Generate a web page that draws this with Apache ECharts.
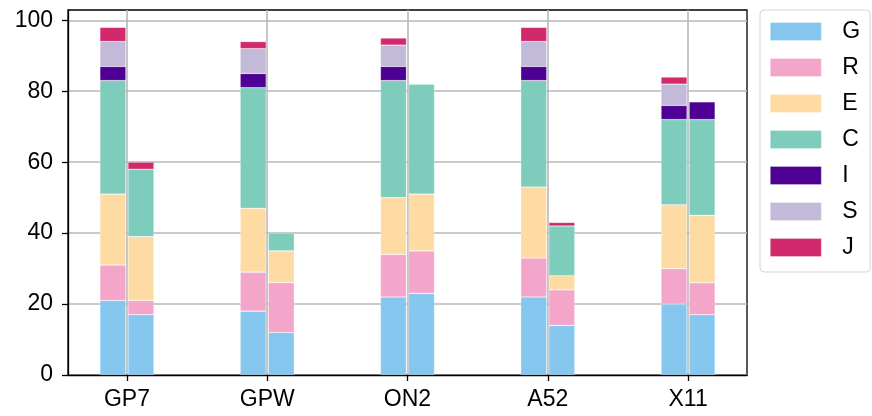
<!DOCTYPE html>
<html>
<head>
<meta charset="utf-8">
<script src="https://cdn.jsdelivr.net/npm/echarts@6/dist/echarts.min.js"></script>
<style>
  html, body { margin: 0; padding: 0; background: #fff; }
  #chart { width: 872px; height: 416px; }
</style>
</head>
<body>
<div id="chart"></div>
<script>
// Categories and tick values
const categories = ['GP7', 'GPW', 'ON2', 'A52', 'X11'];
const yTicks = [0, 20, 40, 60, 80, 100];
const segmentNames = ['G', 'R', 'E', 'C', 'I', 'S', 'J'];

// First (left) bar of each pair, one array per segment
const leftG = [21, 18, 22, 22, 20];
const leftR = [10, 11, 12, 11, 10];
const leftE = [20, 18, 16, 20, 18];
const leftC = [32, 34, 33, 30, 24];
const leftI = [4, 4, 4, 4, 4];
const leftS = [7, 7, 6, 7, 6];
const leftJ = [4, 2, 2, 4, 2];

// Second (right) bar of each pair
const rightG = [17, 12, 23, 14, 17];
const rightR = [4, 14, 12, 10, 9];
const rightE = [18, 9, 16, 4, 19];
const rightC = [19, 5, 31, 14, 27];
const rightI = [0, 0, 0, 0, 5];
const rightS = [0, 0, 0, 0, 0];
const rightJ = [2, 0, 0, 1, 0];

const colors = {
  G: '#85C7EF', R: '#F4A6CA', E: '#FFDBA4', C: '#7ECDBC',
  I: '#4F0094', S: '#C3B9D9', J: '#D2296D'
};

const leftSets = { G: leftG, R: leftR, E: leftE, C: leftC, I: leftI, S: leftS, J: leftJ };
const rightSets = { G: rightG, R: rightR, E: rightE, C: rightC, I: rightI, S: rightS, J: rightJ };

// Axis frame geometry: x runs from -0.42 to 4.42 category units
const FRAME_LEFT = 68, FRAME_TOP = 10, FRAME_W = 679, FRAME_H = 365;
const X_MIN = -0.42, X_MAX = 4.42, Y_MAX = 102.9;
const unitPx = FRAME_W / (X_MAX - X_MIN);
// Invisible category grid whose bands line up with the frame's unit positions
const BAND_LEFT = FRAME_LEFT + (X_MIN + 0.5) * -unitPx;
const BAND_W = categories.length * unitPx;

function makeSeries(name, values, stackId) {
  return {
    name: name,
    type: 'bar',
    stack: stackId,
    xAxisIndex: 1,
    yAxisIndex: 1,
    barWidth: 26,
    barGap: '8%',
    itemStyle: { color: colors[name], borderColor: 'rgba(255,255,255,0.35)', borderWidth: 0.6 },
    emphasis: { disabled: true },
    data: values.map(v => (v === 0 ? '-' : v))
  };
}

const series = [];
segmentNames.forEach(n => series.push(makeSeries(n, leftSets[n], 'left')));
segmentNames.forEach(n => series.push(makeSeries(n, rightSets[n], 'right')));

const chart = echarts.init(document.getElementById('chart'), null, { renderer: 'canvas' });
const font = 'Liberation Sans, Arial, Helvetica, sans-serif';

chart.setOption({
  animation: false,
  color: segmentNames.map(n => colors[n]),
  textStyle: { fontFamily: font },
  grid: [
    {
      left: FRAME_LEFT, top: FRAME_TOP, width: FRAME_W, height: FRAME_H,
      show: true, borderColor: '#000', borderWidth: 1.3, backgroundColor: 'transparent'
    },
    { left: BAND_LEFT, top: FRAME_TOP, width: BAND_W, height: FRAME_H }
  ],
  legend: {
    orient: 'vertical',
    left: 760, top: 10,
    padding: [10, 10, 13, 10],
    itemWidth: 51, itemHeight: 18, itemGap: 13,
    icon: 'rect',
    borderColor: '#d4d4d4', borderWidth: 1, borderRadius: 4,
    data: segmentNames,
    textStyle: { fontSize: 23, color: '#000', fontFamily: font, padding: [0, 0, 0, 16] },
    itemStyle: { borderColor: 'rgba(255,255,255,0.5)', borderWidth: 0.6 }
  },
  xAxis: [
    {
      type: 'value',
      gridIndex: 0,
      min: X_MIN, max: X_MAX,
      axisLine: { show: true, onZero: false, lineStyle: { color: '#000', width: 1.3 } },
      axisTick: { show: true, length: 6, customValues: [0, 1, 2, 3, 4], lineStyle: { color: '#000', width: 1.3 } },
      axisLabel: {
        customValues: [0, 1, 2, 3, 4],
        formatter: v => categories[Math.round(v)],
        fontSize: 23, color: '#000', fontFamily: font, margin: 13
      },
      splitLine: { show: true, lineStyle: { color: '#b8b8b8', width: 1.6 } }
    },
    {
      type: 'category',
      gridIndex: 1,
      data: categories,
      boundaryGap: true,
      show: false
    }
  ],
  yAxis: [
    {
      type: 'value',
      gridIndex: 0,
      min: 0, max: Y_MAX,
      axisLine: { show: true, onZero: false, lineStyle: { color: '#000', width: 1.3 } },
      axisTick: { show: true, length: 6, customValues: yTicks, lineStyle: { color: '#000', width: 1.3 } },
      axisLabel: {
        customValues: yTicks,
        fontSize: 23, color: '#000', fontFamily: font, margin: 15
      },
      splitLine: { show: true, lineStyle: { color: '#b8b8b8', width: 1.6 } }
    },
    {
      type: 'value',
      gridIndex: 1,
      min: 0, max: Y_MAX,
      show: false,
      splitLine: { show: false }
    }
  ],
  series: series
});
</script>
</body>
</html>
